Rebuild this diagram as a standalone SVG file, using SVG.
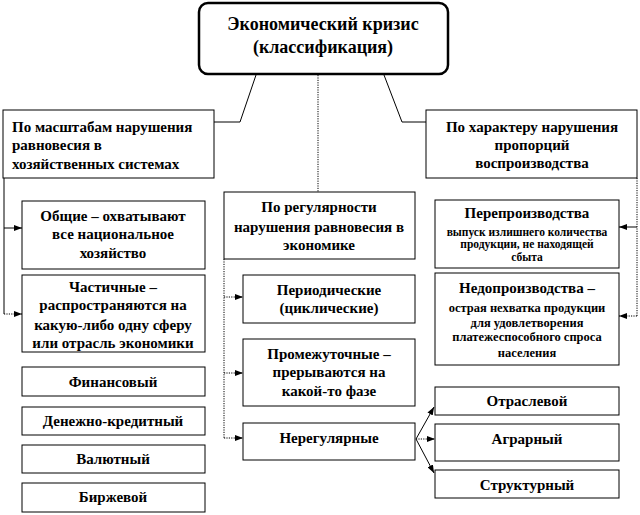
<svg xmlns="http://www.w3.org/2000/svg" width="640" height="515" viewBox="0 0 640 515">
<style>
text{fill:#000;text-anchor:middle}
.box{fill:#fff;stroke:#000;stroke-width:1}
.ln{fill:none;stroke:#000;stroke-width:1}
.dot{stroke-dasharray:1.2 1.2}
</style>
<defs>
<marker id="ah" markerWidth="8" markerHeight="6" refX="8" refY="3" orient="auto" markerUnits="userSpaceOnUse">
<path d="M0,0 L8,3 L0,6 Z" fill="#000"/>
</marker>
</defs>
<rect width="640" height="515" fill="#fff"/>

<g id="connectors">
<polyline class="ln" points="256,75 240,122 214,122"/>
<line class="ln dot" x1="318" y1="75" x2="318" y2="192"/>
<polyline class="ln" points="384,75 402,122 426,122"/>
<line class="ln" x1="4" y1="178" x2="4" y2="314"/>
<line class="ln" x1="4" y1="228" x2="22" y2="228" marker-end="url(#ah)"/>
<line class="ln dot" x1="4" y1="314" x2="22" y2="314" marker-end="url(#ah)"/>
<line class="ln dot" x1="224" y1="259" x2="224" y2="438"/>
<line class="ln dot" x1="224" y1="297" x2="243" y2="297" marker-end="url(#ah)"/>
<line class="ln dot" x1="224" y1="373" x2="243" y2="373" marker-end="url(#ah)"/>
<line class="ln dot" x1="224" y1="438" x2="243" y2="438" marker-end="url(#ah)"/>
<line class="ln" x1="416" y1="439" x2="434" y2="407" marker-end="url(#ah)"/>
<line class="ln dot" x1="416" y1="439" x2="435" y2="439" marker-end="url(#ah)"/>
<line class="ln" x1="416" y1="439" x2="434" y2="473" marker-end="url(#ah)"/>
<line class="ln dot" x1="637" y1="178" x2="637" y2="316"/>
<line class="ln" x1="637" y1="227" x2="619" y2="227" marker-end="url(#ah)"/>
<line class="ln dot" x1="637" y1="316" x2="619" y2="316" marker-end="url(#ah)"/>
</g>

<g id="root">
<rect x="199" y="3" width="249" height="71" rx="9" fill="#fff" stroke="#000" stroke-width="2.5"/>
<text x="323" y="30" font-family="Liberation Serif" font-weight="bold" font-size="18">Экономический кризис</text>
<text x="323" y="53" font-family="Liberation Serif" font-weight="bold" font-size="18">(классификация)</text>
</g>

<g id="scale">
<rect class="box" x="3" y="110" width="211" height="68"/>
<text x="12" y="132" style="text-anchor:start" font-family="Liberation Serif" font-weight="bold" font-size="15">По масштабам  нарушения</text>
<text x="12" y="150" style="text-anchor:start" font-family="Liberation Serif" font-weight="bold" font-size="15">равновесия в</text>
<text x="12" y="169" style="text-anchor:start" font-family="Liberation Serif" font-weight="bold" font-size="15">хозяйственных системах</text>
</g>

<g id="character">
<rect class="box" x="426" y="110" width="211" height="68"/>
<text x="532" y="132" font-family="Liberation Serif" font-weight="bold" font-size="15">По характеру  нарушения</text>
<text x="532" y="150" font-family="Liberation Serif" font-weight="bold" font-size="15">пропорций</text>
<text x="532" y="168" font-family="Liberation Serif" font-weight="bold" font-size="15">воспроизводства</text>
</g>

<g id="general">
<rect class="box" x="22" y="201" width="183" height="68"/>
<text x="113" y="221" font-family="Liberation Serif" font-weight="bold" font-size="15">Общие – охватывают</text>
<text x="113" y="239" font-family="Liberation Serif" font-weight="bold" font-size="15">все национальное</text>
<text x="113" y="258" font-family="Liberation Serif" font-weight="bold" font-size="15">хозяйство</text>
</g>

<g id="partial">
<rect class="box" x="22" y="275" width="183" height="77"/>
<text x="113" y="292" font-family="Liberation Serif" font-weight="bold" font-size="15">Частичные –</text>
<text x="113" y="310" font-family="Liberation Serif" font-weight="bold" font-size="15">распространяются на</text>
<text x="113" y="330" font-family="Liberation Serif" font-weight="bold" font-size="15">какую-либо  одну сферу</text>
<text x="113" y="348" font-family="Liberation Serif" font-weight="bold" font-size="15">или отрасль  экономики</text>
</g>

<g id="financial">
<rect class="box" x="22" y="367" width="183" height="29"/>
<text x="113" y="387" font-family="Liberation Serif" font-weight="bold" font-size="15">Финансовый</text>
</g>
<g id="monetary">
<rect class="box" x="22" y="407" width="183" height="28"/>
<text x="113" y="426" font-family="Liberation Serif" font-weight="bold" font-size="15">Денежно-кредитный</text>
</g>
<g id="currency">
<rect class="box" x="22" y="445" width="183" height="28"/>
<text x="113" y="464" font-family="Liberation Serif" font-weight="bold" font-size="15">Валютный</text>
</g>
<g id="exchange">
<rect class="box" x="22" y="483" width="183" height="29"/>
<text x="113" y="502" font-family="Liberation Serif" font-weight="bold" font-size="15">Биржевой</text>
</g>

<g id="regularity">
<rect class="box" x="224" y="192" width="191" height="67"/>
<text x="319" y="212" font-family="Liberation Serif" font-weight="bold" font-size="15">По регулярности</text>
<text x="319" y="232" font-family="Liberation Serif" font-weight="bold" font-size="15">нарушения  равновесия в</text>
<text x="319" y="250" font-family="Liberation Serif" font-weight="bold" font-size="15">экономике</text>
</g>

<g id="periodic">
<rect class="box" x="243" y="275" width="172" height="48"/>
<text x="329" y="295" font-family="Liberation Serif" font-weight="bold" font-size="15">Периодические</text>
<text x="329" y="313" font-family="Liberation Serif" font-weight="bold" font-size="15">(циклические)</text>
</g>

<g id="intermediate">
<rect class="box" x="243" y="339" width="172" height="67"/>
<text x="329" y="359" font-family="Liberation Serif" font-weight="bold" font-size="15">Промежуточные –</text>
<text x="329" y="377" font-family="Liberation Serif" font-weight="bold" font-size="15">прерываются на</text>
<text x="329" y="396" font-family="Liberation Serif" font-weight="bold" font-size="15">какой-то фазе</text>
</g>

<g id="irregular">
<rect class="box" x="243" y="423" width="172" height="37"/>
<text x="329" y="443" font-family="Liberation Serif" font-weight="bold" font-size="15">Нерегулярные</text>
</g>

<g id="sectoral">
<rect class="box" x="435" y="387" width="184" height="28"/>
<text x="527" y="406" font-family="Liberation Serif" font-weight="bold" font-size="15">Отраслевой</text>
</g>
<g id="agrarian">
<rect class="box" x="435" y="424" width="184" height="37"/>
<text x="527" y="444" font-family="Liberation Serif" font-weight="bold" font-size="15">Аграрный</text>
</g>
<g id="structural">
<rect class="box" x="435" y="470" width="184" height="28"/>
<text x="527" y="490" font-family="Liberation Serif" font-weight="bold" font-size="15">Структурный</text>
</g>

<g id="overproduction">
<rect class="box" x="435" y="200" width="184" height="68"/>
<text x="527" y="218" font-family="Liberation Serif" font-weight="bold" font-size="15">Перепроизводства</text>
<text x="527" y="236" font-family="Liberation Serif" font-weight="bold" font-size="11.5">выпуск излишнего  количества</text>
<text x="527" y="248" font-family="Liberation Serif" font-weight="bold" font-size="11.5">продукции, не находящей</text>
<text x="527" y="261" font-family="Liberation Serif" font-weight="bold" font-size="11.5">сбыта</text>
</g>

<g id="underproduction">
<rect class="box" x="435" y="273" width="184" height="92"/>
<text x="527" y="293" font-family="Liberation Serif" font-weight="bold" font-size="15">Недопроизводства –</text>
<text x="527" y="312" font-family="Liberation Serif" font-weight="bold" font-size="12.5">острая нехватка  продукции</text>
<text x="527" y="327" font-family="Liberation Serif" font-weight="bold" font-size="12.5">для удовлетворения</text>
<text x="527" y="341" font-family="Liberation Serif" font-weight="bold" font-size="12.5">платежеспособного спроса</text>
<text x="527" y="357" font-family="Liberation Serif" font-weight="bold" font-size="12.5">населения</text>
</g>
</svg>
